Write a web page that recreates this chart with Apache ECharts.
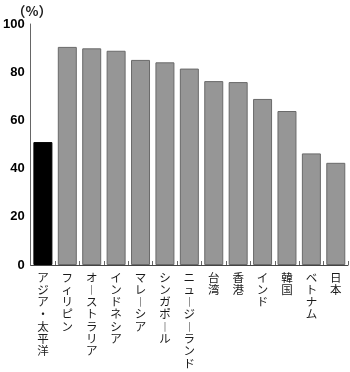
<!DOCTYPE html>
<html><head><meta charset="utf-8">
<script src="https://cdn.jsdelivr.net/npm/echarts@6/dist/echarts.min.js"></script>
<style>html,body{margin:0;padding:0;background:#fff}#c{width:350px;height:372px}</style>
</head><body><div id="c"></div>
<script>
const categories = ['アジア・太平洋','フィリピン','オーストラリア','インドネシア','マレーシア','シンガポール','ニュージーランド','台湾','香港','インド','韓国','ベトナム','日本'];
const values = [51, 90.5, 89.9, 88.9, 85.1, 84.1, 81.5, 76.3, 75.9, 68.9, 63.9, 46.3, 42.4];
const highlight = ['アジア・太平洋'];
const yTicks = [0, 20, 40, 60, 80, 100];
const unitLabel = '（%）';

const chart = echarts.init(document.getElementById('c'), null, {renderer:'canvas'});
chart.setOption({
  animation: false,
  title: { text: unitLabel, left: 7, top: -1, textStyle: { fontSize: 13.5, fontWeight: 'bold', color: '#222', fontFamily: 'Noto Sans CJK JP' } },
  grid: { left: 28, right: 2, top: 24, bottom: 107 },
  xAxis: {
    type: 'category', data: categories,
    axisLine: { lineStyle: { color: '#444', width: 1 } },
    axisTick: { show: true, inside: true, length: 4, lineStyle: { color: '#666' } },
    axisLabel: {
      interval: 0, margin: 6, color: '#1a1a1a', fontSize: 11.5, lineHeight: 12.3,
      fontFamily: 'Noto Sans CJK JP', verticalAlign: 'top',
      formatter: v => v.split('').map(ch => ch === 'ー' ? '︱' : ch).join('\n')
    }
  },
  yAxis: {
    type: 'value', min: 0, max: 100, interval: 20,
    axisLine: { show: true, lineStyle: { color: '#666', width: 1 } },
    axisTick: { show: false },
    splitLine: { show: false },
    axisLabel: { color: '#000', fontSize: 13, fontWeight: 'bold', fontFamily: 'Liberation Sans', margin: 6,
      formatter: v => yTicks.includes(v) ? String(v) : '' }
  },
  series: [{
    type: 'bar', barWidth: 19,
    data: values.map((v, i) => ({
      value: v,
      itemStyle: highlight.includes(categories[i])
        ? { color: '#000', borderColor: '#000', borderWidth: 1 }
        : { color: '#969696', borderColor: '#6a6a6a', borderWidth: 1 }
    }))
  }]
});
</script></body></html>
